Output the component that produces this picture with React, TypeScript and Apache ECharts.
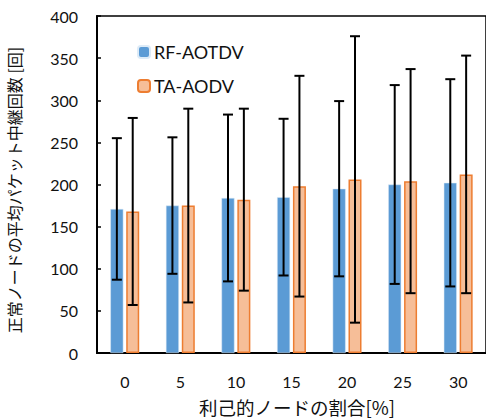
import React, { useEffect, useRef } from "react";
import * as echarts from "echarts";

const categories = ["0", "5", "10", "15", "20", "25", "30"];
const rfMean = [171, 175, 184, 185, 195, 200, 202];
const rfSd = [84, 81, 99, 93, 104, 118, 123];
const taMean = [168, 175, 182, 198, 206, 204, 212];
const taSd = [111, 115, 108, 131, 170, 133, 141];
const yTicks = [0, 50, 100, 150, 200, 250, 300, 350, 400];

const LATIN = "Lato, 'Noto Sans CJK JP', sans-serif";
const JP = "'Noto Sans CJK JP', sans-serif";
const TXT = "#111";
const BAR_W = 13;
const BAR_GAP = 0.22;
const OFFSET = (BAR_W * (1 + BAR_GAP)) / 2;

function errorSeries(name: string, means: number[], sds: number[], dir: number) {
  return {
    type: "custom",
    name: name + "-err",
    z: 10,
    silent: true,
    data: means.map((m, i) => [i, m, sds[i]]),
    renderItem: (params: any, api: any) => {
      const i = api.value(0);
      const m = api.value(1);
      const s = api.value(2);
      const top = api.coord([i, m + s]);
      const bot = api.coord([i, m - s]);
      const x = top[0] + dir * OFFSET;
      const cap = 5;
      const st = { stroke: "#000", lineWidth: 2 };
      return {
        type: "group",
        children: [
          { type: "line", shape: { x1: x, y1: top[1], x2: x, y2: bot[1] }, style: st },
          { type: "line", shape: { x1: x - cap, y1: top[1], x2: x + cap, y2: top[1] }, style: st },
          { type: "line", shape: { x1: x - cap, y1: bot[1], x2: x + cap, y2: bot[1] }, style: st },
        ],
      };
    },
  };
}

export default function App() {
  const ref = useRef<HTMLDivElement>(null);
  useEffect(() => {
    document.body.style.margin = "0";
    const chart = echarts.init(ref.current!, null, { renderer: "svg" });
    chart.setOption({
      animation: false,
      backgroundColor: "#fff",
      grid: {
        left: 97,
        top: 16,
        bottom: 66,
        right: -4,
        show: true,
        borderColor: "#000",
        borderWidth: 1.5,
      },
      legend: {
        orient: "vertical",
        left: 137,
        top: 43,
        padding: 0,
        itemWidth: 12,
        itemHeight: 12,
        itemGap: 16,
        textStyle: { fontFamily: LATIN, fontSize: 18, color: TXT, padding: [0, 0, 0, -1] },
        data: ["RF-AOTDV", "TA-AODV"],
      },
      xAxis: {
        type: "category",
        data: categories,
        axisLine: { lineStyle: { color: "#000", width: 2 } },
        axisTick: { show: false },
        axisLabel: { fontFamily: LATIN, fontSize: 16, color: TXT, margin: 20 },
      },
      yAxis: {
        type: "value",
        min: yTicks[0],
        max: yTicks[yTicks.length - 1],
        interval: 50,
        splitLine: { show: false },
        axisLine: { show: true, lineStyle: { color: "#000", width: 2 } },
        axisTick: { show: true, inside: true, length: 4, lineStyle: { color: "#000", width: 1.5 } },
        axisLabel: { fontFamily: LATIN, fontSize: 16, color: TXT, margin: 19 },
      },
      graphic: [
        {
          type: "text",
          x: 14,
          y: 190,
          rotation: Math.PI / 2,
          style: {
            text: "正常ノードの平均パケット中継回数 [回]",
            fontFamily: JP,
            fontSize: 16,
            fill: TXT,
            align: "center",
            verticalAlign: "middle",
          },
        },
        {
          type: "text",
          x: 297,
          y: 407,
          style: {
            text: "利己的ノードの割合[%]",
            fontFamily: JP,
            fontSize: 18.5,
            fill: TXT,
            align: "center",
            verticalAlign: "middle",
          },
        },
      ],
      series: [
        {
          type: "bar",
          name: "RF-AOTDV",
          data: rfMean,
          barWidth: BAR_W,
          barGap: BAR_GAP * 100 + "%",
          itemStyle: { color: "#5B9BD5", borderColor: "#DDEBF7", borderWidth: 0.5 },
        },
        {
          type: "bar",
          name: "TA-AODV",
          data: taMean,
          barWidth: BAR_W,
          barGap: BAR_GAP * 100 + "%",
          itemStyle: { color: "#F6BE98", borderColor: "#ED7D31", borderWidth: 1.5 },
        },
        errorSeries("RF-AOTDV", rfMean, rfSd, -1),
        errorSeries("TA-AODV", taMean, taSd, 1),
      ],
    });
    return () => chart.dispose();
  }, []);
  return (
    <div
      ref={ref}
      style={{ position: "absolute", left: 0, top: 0, width: 486, height: 419 }}
    />
  );
}
